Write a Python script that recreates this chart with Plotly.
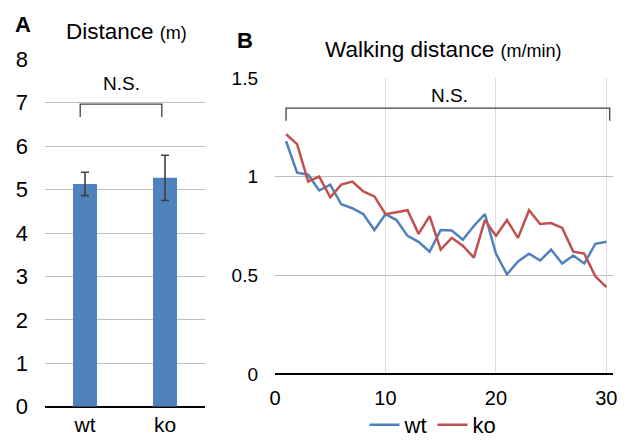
import plotly.graph_objects as go

# ---------------- data ----------------
groups = ["wt", "ko"]
distance_mean = [5.13, 5.27]
distance_err = [0.27, 0.52]

minutes = list(range(1, 31))
wt_speed = [1.18, 1.02, 1.01, 0.93, 0.96, 0.86, 0.84, 0.81, 0.73, 0.81,
            0.78, 0.70, 0.67, 0.62, 0.73, 0.727, 0.68, 0.75, 0.81, 0.61,
            0.505, 0.57, 0.61, 0.575, 0.63, 0.56, 0.60, 0.56, 0.66, 0.67]
ko_speed = [1.215, 1.165, 0.975, 1.00, 0.895, 0.96, 0.975, 0.925, 0.90, 0.81,
            0.82, 0.83, 0.71, 0.80, 0.63, 0.69, 0.65, 0.59, 0.78, 0.70,
            0.78, 0.69, 0.83, 0.76, 0.765, 0.74, 0.62, 0.61, 0.495, 0.44]

left_ticks = [0, 1, 2, 3, 4, 5, 6, 7, 8]
right_yticks = [0, 0.5, 1, 1.5]
right_xticks = [0, 10, 20, 30]

BLUE = "#4f81bd"
RED = "#c0504d"
FONT = "Liberation Sans, Arial, sans-serif"
W, H = 630, 441

def px_x(p):
    return p / W

def px_y(p):
    return 1 - p / H

fig = go.Figure()

fig.add_trace(go.Bar(
    x=groups, y=distance_mean, marker=dict(color=BLUE, line=dict(width=0)),
    width=0.3, showlegend=False, xaxis="x", yaxis="y",
    error_y=dict(type="data", array=distance_err, visible=True,
                 color="#404040", thickness=1.6, width=4),
))

fig.add_trace(go.Scatter(x=minutes, y=wt_speed, mode="lines", name="wt",
                         line=dict(color=BLUE, width=2.5), xaxis="x2", yaxis="y2"))
fig.add_trace(go.Scatter(x=minutes, y=ko_speed, mode="lines", name="ko",
                         line=dict(color=RED, width=2.5), xaxis="x2", yaxis="y2"))

fig.update_layout(
    width=W, height=H, margin=dict(l=0, r=0, t=0, b=0, autoexpand=False),
    paper_bgcolor="white", plot_bgcolor="white",
    font=dict(family=FONT, color="#000000"),
    bargap=0.7,
    xaxis=dict(domain=[px_x(45), px_x(205)], type="category",
               showgrid=False, showline=False, ticks="", zeroline=False,
               tickfont=dict(size=21), ticklabelstandoff=3, anchor="y"),
    yaxis=dict(domain=[px_y(406.7), px_y(59.3)], range=[0, 8],
               tickvals=left_ticks, showgrid=True, gridcolor="#bfbfbf", gridwidth=1,
               zeroline=True, zerolinecolor="#000000", zerolinewidth=2,
               showline=False, ticks="", tickfont=dict(size=22),
               ticklabelstandoff=16, anchor="x"),
    xaxis2=dict(domain=[px_x(275), px_x(613)], range=[0, 30.6],
                tickvals=right_xticks, showgrid=True, gridcolor="#dedede", gridwidth=1,
                zeroline=False, showline=False, ticks="",
                tickfont=dict(size=20), ticklabelstandoff=10, anchor="y2"),
    yaxis2=dict(domain=[px_y(374), px_y(78)], range=[0, 1.5],
                tickvals=right_yticks, ticktext=["0", "0.5", "1", "1.5"],
                showgrid=True, gridcolor="#bfbfbf", gridwidth=1,
                zeroline=True, zerolinecolor="#000000", zerolinewidth=2,
                showline=False, ticks="", tickfont=dict(size=19),
                ticklabelstandoff=16, anchor="x2"),
    legend=dict(orientation="h", x=px_x(433), xanchor="center", y=px_y(425), yanchor="middle",
                font=dict(size=22), itemwidth=30, tracegroupgap=0,
                bgcolor="rgba(0,0,0,0)"),
)

# significance brackets
br_line = dict(color="#404040", width=1.3)
fig.add_shape(type="path", xref="x", yref="y",
              path="M -0.06,6.67 L -0.06,6.97 L 0.96,6.97 L 0.96,6.67", line=br_line)
fig.add_shape(type="path", xref="x2", yref="y2",
              path="M 1,1.283 L 1,1.347 L 30.3,1.347 L 30.3,1.283", line=br_line)

annos = [
    dict(text="N.S.", x=0.45, y=7.45, xref="x", yref="y", font=dict(size=19)),
    dict(text="N.S.", x=15.8, y=1.41, xref="x2", yref="y2", font=dict(size=19)),
    dict(text="<b>A</b>", x=px_x(23), y=px_y(25), xref="paper", yref="paper", font=dict(size=22)),
    dict(text="<b>B</b>", x=px_x(245), y=px_y(41), xref="paper", yref="paper", font=dict(size=22)),
    dict(text="Distance <span style='font-size:18px'>(m)</span>", x=px_x(126), y=px_y(31),
         xref="paper", yref="paper", font=dict(size=22.5)),
    dict(text="Walking distance <span style='font-size:18px'>(m/min)</span>", x=px_x(443),
         y=px_y(50), xref="paper", yref="paper", font=dict(size=22.5)),
]
for a in annos:
    fig.add_annotation(showarrow=False, xanchor="center", yanchor="middle", **a)

fig.write_html("out.html")
